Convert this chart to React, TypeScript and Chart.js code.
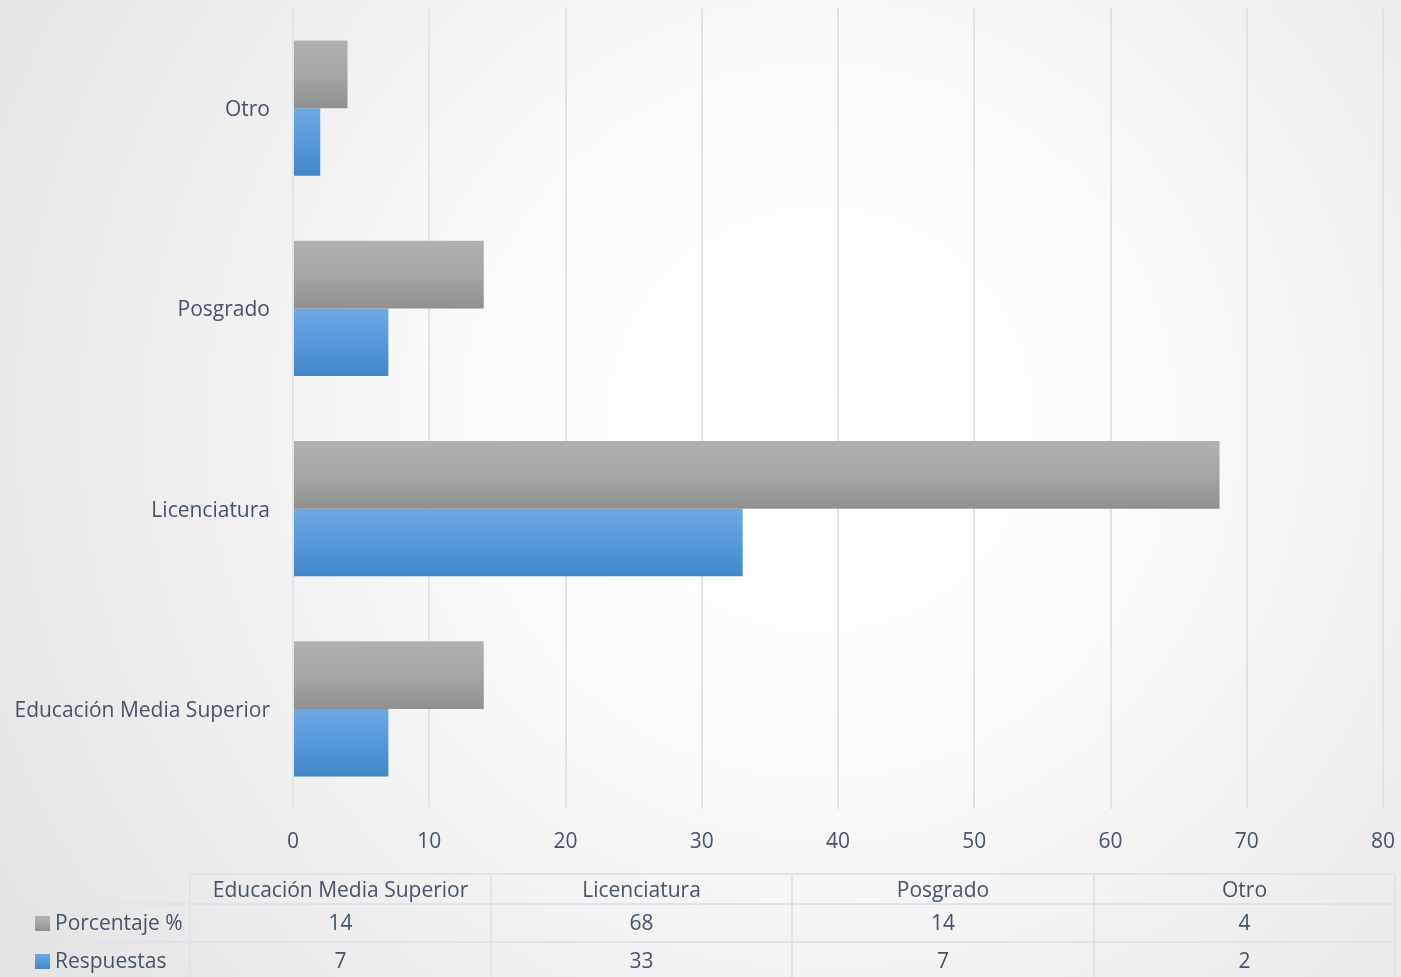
import React, { useEffect, useRef } from "react";
import { Chart, registerables } from "chart.js";

Chart.register(...registerables);

const categories = ["Educación Media Superior", "Licenciatura", "Posgrado", "Otro"];
const porcentaje = [14, 68, 14, 4];
const respuestas = [7, 33, 7, 2];
const seriesNames = ["Porcentaje %", "Respuestas"];
const xTicks = [0, 10, 20, 30, 40, 50, 60, 70, 80];

const FONT = "'Open Sans', 'Noto Sans', sans-serif";
const TEXT = "#44546a";
const GRID = "#dfe3ea";
const FS = 21;

const grayStops: [number, string][] = [[0, "#b1b1b1"], [0.5, "#a6a6a6"], [1, "#909090"]];
const blueStops: [number, string][] = [[0, "#6fa8e0"], [0.5, "#5699dc"], [1, "#4187c8"]];

function grad(ctx: CanvasRenderingContext2D, top: number, h: number, stops: [number, string][]) {
  const g = ctx.createLinearGradient(0, top, 0, top + h);
  stops.forEach(([o, c]) => g.addColorStop(o, c));
  return g;
}

const bgPlugin = {
  id: "bgPlugin",
  beforeDraw(chart: any) {
    const { ctx, width, height } = chart;
    ctx.save();
    const g = ctx.createRadialGradient(820, 420, 0, 820, 420, 950);
    g.addColorStop(0, "#ffffff");
    g.addColorStop(0.35, "#fbfbfb");
    g.addColorStop(1, "#e4e4e4");
    ctx.fillStyle = g;
    ctx.fillRect(0, 0, width, height);
    ctx.restore();
  },
};

const barGradientPlugin = {
  id: "barGradient",
  beforeDatasetsDraw(chart: any) {
    const ctx = chart.ctx;
    chart.data.datasets.forEach((ds: any, i: number) => {
      const meta = chart.getDatasetMeta(i);
      meta.data.forEach((el: any) => {
        const h = el.height;
        const top = el.y - h / 2;
        const g = grad(ctx, top, h, i === 0 ? grayStops : blueStops);
        el.options = Object.assign({}, el.options, { backgroundColor: g });
      });
    });
  },
};

const tablePlugin = {
  id: "dataTable",
  afterDraw(chart: any) {
    const ctx = chart.ctx;
    const colX = [190, 491, 792, 1094, 1395];
    const legendLeft = 27;
    const yTop = 874;
    const yRow1 = 904;
    const yRow2 = 942;
    const yBottom = 977;
    ctx.save();
    ctx.strokeStyle = GRID;
    ctx.lineWidth = 2;
    ctx.beginPath();
    ctx.moveTo(colX[0], yTop);
    ctx.lineTo(colX[4], yTop);
    ctx.moveTo(legendLeft, yRow1);
    ctx.lineTo(colX[4], yRow1);
    ctx.moveTo(legendLeft, yRow2);
    ctx.lineTo(colX[4], yRow2);
    colX.forEach((x) => {
      ctx.moveTo(x, yTop);
      ctx.lineTo(x, yBottom);
    });
    ctx.moveTo(legendLeft, yRow1);
    ctx.lineTo(legendLeft, yBottom);
    ctx.stroke();

    ctx.fillStyle = TEXT;
    ctx.font = `${FS}px ${FONT}`;
    ctx.textAlign = "center";
    ctx.textBaseline = "middle";
    const rows = [porcentaje, respuestas];
    categories.forEach((c, j) => {
      const cx = (colX[j] + colX[j + 1]) / 2;
      ctx.fillText(c, cx, 891);
      ctx.fillText(String(rows[0][j]), cx, 924);
      ctx.fillText(String(rows[1][j]), cx, 962);
    });
    const keyY = [923, 961];
    seriesNames.forEach((n, i) => {
      ctx.fillStyle = grad(ctx, keyY[i] - 7, 15, i === 0 ? grayStops : blueStops);
      ctx.fillRect(35, keyY[i] - 7, 15, 15);
      ctx.fillStyle = TEXT;
      ctx.textAlign = "left";
      ctx.fillText(n, 55, keyY[i] + 1);
    });
    ctx.restore();
  },
};

function zeroPad(scale: any) {
  scale.paddingTop = 0;
  scale.paddingBottom = 0;
  scale.paddingLeft = 0;
  scale.paddingRight = 0;
}

export default function App() {
  const ref = useRef<HTMLCanvasElement>(null);
  useEffect(() => {
    document.body.style.margin = "0";
    const chart = new Chart(ref.current!, {
      type: "bar",
      data: {
        labels: categories,
        datasets: [
          { label: seriesNames[0], data: porcentaje, backgroundColor: "#a6a6a6" },
          { label: seriesNames[1], data: respuestas, backgroundColor: "#5699dc" },
        ],
      },
      options: {
        indexAxis: "y",
        animation: false,
        responsive: false,
        maintainAspectRatio: false,
        datasets: { bar: { categoryPercentage: 0.675, barPercentage: 1 } },
        layout: { padding: { top: 8, right: 18, left: 0, bottom: 0 } },
        plugins: { legend: { display: false }, tooltip: { enabled: false } },
        scales: {
          x: {
            min: 0,
            max: 80,
            afterBuildTicks: (scale: any) => {
              scale.ticks = xTicks.map((v) => ({ value: v }));
            },
            afterFit: (scale: any) => {
              scale.height = 168;
              zeroPad(scale);
            },
            grid: { color: GRID, lineWidth: 2, drawTicks: false },
            border: { display: false },
            ticks: { color: TEXT, font: { family: FONT, size: FS }, padding: 20 },
          },
          y: {
            reverse: true,
            afterFit: (scale: any) => {
              scale.width = 293;
              zeroPad(scale);
            },
            grid: { display: false, drawTicks: false },
            border: { display: false },
            ticks: { color: TEXT, font: { family: FONT, size: FS }, padding: 23, labelOffset: 2 },
          },
        },
      },
      plugins: [bgPlugin, barGradientPlugin, tablePlugin],
    });
    return () => chart.destroy();
  }, []);
  return (
    <div style={{ position: "fixed", left: 0, top: 0, width: 1401, height: 977 }}>
      <canvas ref={ref} width={1401} height={977} style={{ width: 1401, height: 977 }} />
    </div>
  );
}
